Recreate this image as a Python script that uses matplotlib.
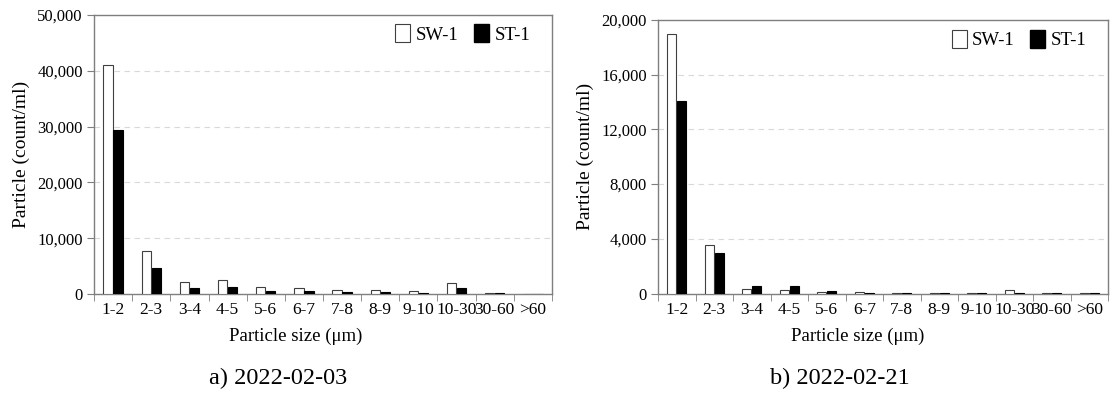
import numpy as np
import matplotlib.pyplot as plt
from matplotlib.patches import Patch

plt.rcParams['font.family'] = ['Liberation Serif', 'DejaVu Serif']

# datos
sizes = ['1-2', '2-3', '3-4', '4-5', '5-6', '6-7', '7-8', '8-9', '9-10', '10-30', '30-60', '>60']
sw1_a = [41100, 7700, 2200, 2550, 1250, 1000, 720, 660, 480, 2000, 150, 50]
st1_a = [29400, 4600, 1100, 1200, 600, 540, 360, 300, 180, 1000, 150, 60]
sw1_b = [18950, 3550, 340, 240, 120, 120, 50, 50, 50, 240, 30, 30]
st1_b = [14100, 2950, 520, 520, 190, 60, 40, 30, 30, 30, 30, 30]
captions = ['a) 2022-02-03', 'b) 2022-02-21']

fig = plt.figure(figsize=(11.13, 4.0), dpi=100)
W, H = 1113, 400
ax1 = fig.add_axes([94 / W, (H - 294) / H, (552 - 94) / W, (294 - 15) / H])
ax2 = fig.add_axes([658 / W, (H - 293.5) / H, (1108 - 658) / W, (293.5 - 20) / H])

x = np.arange(len(sizes))
bw = 0.245
grey = '#7f7f7f'

def panel(ax, sw, st, ymax, step):
    ax.bar(x - 0.13, sw, bw, color='white', edgecolor='#404040', linewidth=0.8, zorder=3)
    ax.bar(x + 0.13, st, bw, color='black', edgecolor='black', linewidth=0.8, zorder=3)
    ax.set_xlim(-0.5, len(sizes) - 0.5)
    ax.set_ylim(0, ymax)
    yt = np.arange(0, ymax + 1, step)
    ax.set_yticks(yt)
    ax.set_yticklabels([f'{v:,}' for v in yt], fontsize=12)
    ax.set_xticks(x)
    ax.set_xticklabels(sizes, fontsize=12.5)
    ax.set_xticks(np.arange(-0.5, len(sizes)), minor=True)
    ax.tick_params(axis='x', which='major', length=0, pad=6)
    ax.tick_params(axis='x', which='minor', length=5, color=grey, direction='out')
    ax.tick_params(axis='y', length=5, color=grey, direction='out', pad=3)
    for s in ax.spines.values():
        s.set_color(grey)
        s.set_linewidth(1.0)
    for v in yt[1:-1]:
        ax.axhline(v, color='#d9d9d9', linestyle=(0, (5, 4)), linewidth=0.8, zorder=0)
    ax.set_ylabel('Particle (count/ml)', fontsize=14, labelpad=5)
    handles = [Patch(facecolor='white', edgecolor='#404040', linewidth=0.8),
               Patch(facecolor='black', edgecolor='black')]
    ax.legend(handles, ['SW-1', 'ST-1'], loc='upper right', ncol=2, frameon=False,
              fontsize=13.5, handlelength=0.8, handleheight=1.1, handletextpad=0.3,
              columnspacing=0.8, borderaxespad=0.4, bbox_to_anchor=(0.985, 1.02))

panel(ax1, sw1_a, st1_a, 50000, 10000)
panel(ax2, sw1_b, st1_b, 20000, 4000)

fig.text(296 / W, 1 - 336 / H, 'Particle size (μm)', ha='center', va='center', fontsize=13.5)
fig.text(858 / W, 1 - 336 / H, 'Particle size (μm)', ha='center', va='center', fontsize=13.5)
fig.text(278 / W, 1 - 378 / H, captions[0], ha='center', va='center', fontsize=17.5)
fig.text(840 / W, 1 - 378 / H, captions[1], ha='center', va='center', fontsize=17.5)

plt.savefig('out.png', dpi=100)
